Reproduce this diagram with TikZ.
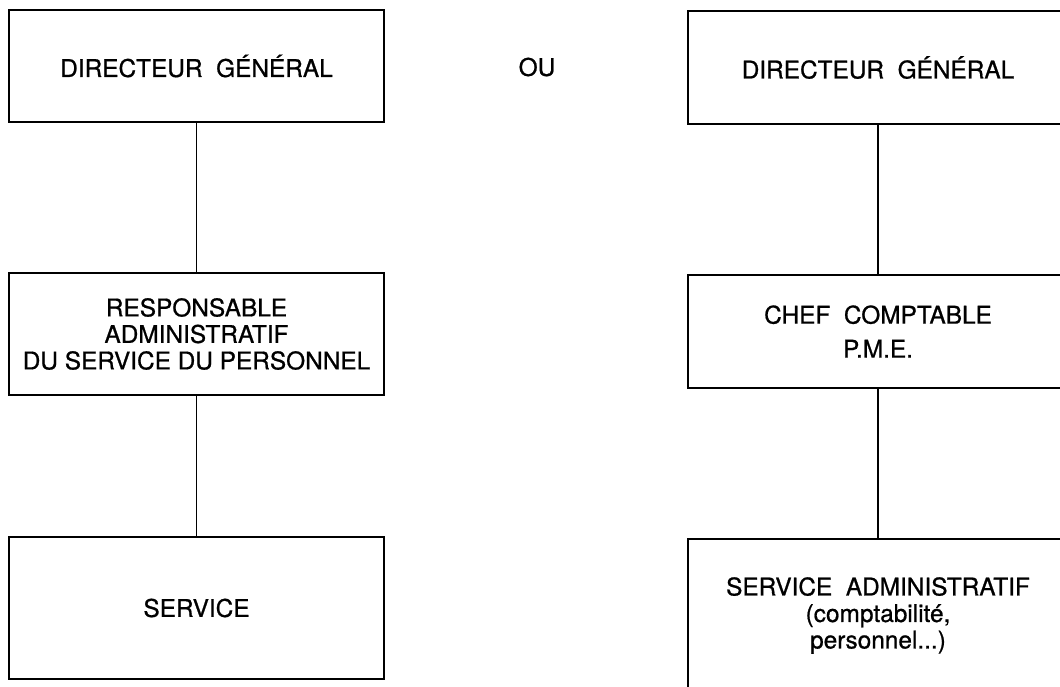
\documentclass[tikz,border=0pt]{standalone}
\usepackage{fontspec}
\setmainfont{TeX Gyre Heros}[FakeBold=0.8]
\begin{document}
\begin{tikzpicture}[x=1pt,y=-1pt,
  orgbox/.style={draw=black,line width=1.3pt,align=center,inner sep=0pt,
    font=\fontsize{24.4}{26.5}\selectfont},
  link/.style={draw=black,line width=1.3pt}]
\useasboundingbox (0,0) rectangle (1060,687);
\clip (0,0) rectangle (1060,687);
% left chain
\node[orgbox,minimum width=375pt,minimum height=112pt] (dgA) at (196.5,66)
  {DIRECTEUR\ \ GÉNÉRAL};
\node[orgbox,minimum width=375pt,minimum height=122pt] (resp) at (196.5,334)
  {RESPONSABLE\\ADMINISTRATIF\\DU SERVICE DU PERSONNEL};
\node[orgbox,minimum width=375pt,minimum height=142pt] (serv) at (196.5,608)
  {SERVICE};
% alternative
\node[font=\fontsize{24.4}{26.5}\selectfont,inner sep=0pt] (ou) at (537,67) {OU};
% right chain
\node[orgbox,minimum width=380pt,minimum height=113pt] (dgB) at (878,67.5)
  {DIRECTEUR\ \ GÉNÉRAL};
\node[orgbox,minimum width=380pt,minimum height=113pt] (chef) at (878,331.5)
  {CHEF\ \ COMPTABLE\\[7.5pt]P.M.E.};
\node[orgbox,minimum width=380pt,minimum height=153pt] (admin) at (878,615.5)
  {SERVICE\ \ ADMINISTRATIF\\(comptabilité,\\personnel...)};
% connectors
\draw[link] (dgA) -- (resp);
\draw[link] (resp) -- (serv);
\draw[link] (dgB) -- (chef);
\draw[link] (chef) -- (admin);
\end{tikzpicture}
\end{document}
